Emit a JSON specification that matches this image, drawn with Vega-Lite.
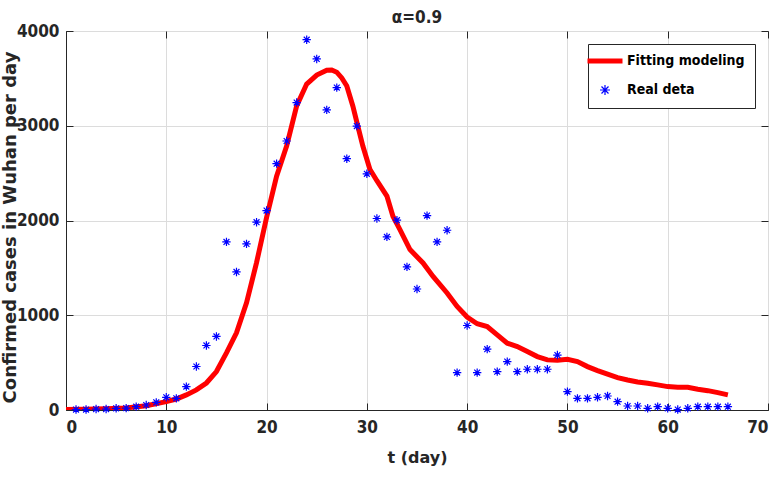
{
  "$schema": "https://vega.github.io/schema/vega-lite/v6.json",
  "width": 702,
  "height": 379,
  "autosize": {"type": "none"},
  "padding": {"left": 66, "top": 31, "right": 9, "bottom": 70},
  "background": "white",
  "title": {"text": "α=0.9", "font": "DejaVu Sans Condensed, Liberation Sans", "fontSize": 17, "fontWeight": "bold", "color": "#262626", "offset": -5, "anchor": "middle", "frame": "group"},
  "config": {
    "view": {"stroke": "#262626", "strokeWidth": 1},
    "axis": {
      "labelFont": "DejaVu Sans Condensed, Liberation Sans", "labelFontSize": 17, "labelFontWeight": "bold", "labelColor": "#262626",
      "titleFont": "DejaVu Sans, Liberation Sans", "titleFontWeight": "bold", "titleColor": "#262626",
      "domainColor": "#262626", "tickColor": "#262626", "tickSize": -7,
      "gridColor": "#dcdcdc", "gridWidth": 1
    }
  },
  "resolve": {"axis": {"x": "independent", "y": "independent"}},
  "datasets": {
    "fit": [
      {"t": 0, "v": 5, "series": "Fitting modeling"}, {"t": 2, "v": 8, "series": "Fitting modeling"}, {"t": 4, "v": 13, "series": "Fitting modeling"},
      {"t": 6, "v": 22, "series": "Fitting modeling"}, {"t": 8, "v": 45, "series": "Fitting modeling"}, {"t": 10, "v": 88, "series": "Fitting modeling"},
      {"t": 11, "v": 116, "series": "Fitting modeling"}, {"t": 12, "v": 159, "series": "Fitting modeling"}, {"t": 13, "v": 212, "series": "Fitting modeling"},
      {"t": 14, "v": 285, "series": "Fitting modeling"}, {"t": 15, "v": 406, "series": "Fitting modeling"}, {"t": 16, "v": 603, "series": "Fitting modeling"},
      {"t": 17, "v": 815, "series": "Fitting modeling"}, {"t": 18, "v": 1132, "series": "Fitting modeling"}, {"t": 19, "v": 1555, "series": "Fitting modeling"},
      {"t": 20, "v": 2031, "series": "Fitting modeling"}, {"t": 21, "v": 2468, "series": "Fitting modeling"}, {"t": 22, "v": 2786, "series": "Fitting modeling"},
      {"t": 23, "v": 3209, "series": "Fitting modeling"}, {"t": 24, "v": 3440, "series": "Fitting modeling"}, {"t": 25, "v": 3535, "series": "Fitting modeling"},
      {"t": 26, "v": 3585, "series": "Fitting modeling"}, {"t": 26.5, "v": 3588, "series": "Fitting modeling"}, {"t": 27, "v": 3565, "series": "Fitting modeling"},
      {"t": 27.5, "v": 3505, "series": "Fitting modeling"}, {"t": 28, "v": 3420, "series": "Fitting modeling"}, {"t": 28.6, "v": 3209, "series": "Fitting modeling"},
      {"t": 29.1, "v": 2997, "series": "Fitting modeling"}, {"t": 29.6, "v": 2786, "series": "Fitting modeling"}, {"t": 30.3, "v": 2540, "series": "Fitting modeling"},
      {"t": 31, "v": 2420, "series": "Fitting modeling"}, {"t": 32, "v": 2257, "series": "Fitting modeling"}, {"t": 32.6, "v": 2045, "series": "Fitting modeling"},
      {"t": 33.3, "v": 1904, "series": "Fitting modeling"}, {"t": 34.3, "v": 1693, "series": "Fitting modeling"}, {"t": 35.6, "v": 1552, "series": "Fitting modeling"},
      {"t": 36.6, "v": 1410, "series": "Fitting modeling"}, {"t": 38, "v": 1235, "series": "Fitting modeling"}, {"t": 39, "v": 1093, "series": "Fitting modeling"},
      {"t": 40, "v": 981, "series": "Fitting modeling"}, {"t": 41, "v": 910, "series": "Fitting modeling"}, {"t": 42, "v": 881, "series": "Fitting modeling"},
      {"t": 43, "v": 793, "series": "Fitting modeling"}, {"t": 44, "v": 705, "series": "Fitting modeling"}, {"t": 45, "v": 670, "series": "Fitting modeling"},
      {"t": 46, "v": 617, "series": "Fitting modeling"}, {"t": 47, "v": 564, "series": "Fitting modeling"}, {"t": 48, "v": 529, "series": "Fitting modeling"},
      {"t": 49, "v": 525, "series": "Fitting modeling"}, {"t": 50, "v": 536, "series": "Fitting modeling"}, {"t": 51, "v": 511, "series": "Fitting modeling"},
      {"t": 52, "v": 458, "series": "Fitting modeling"}, {"t": 53, "v": 416, "series": "Fitting modeling"}, {"t": 54, "v": 378, "series": "Fitting modeling"},
      {"t": 55, "v": 342, "series": "Fitting modeling"}, {"t": 56, "v": 317, "series": "Fitting modeling"}, {"t": 57, "v": 296, "series": "Fitting modeling"},
      {"t": 58, "v": 282, "series": "Fitting modeling"}, {"t": 59, "v": 265, "series": "Fitting modeling"}, {"t": 60, "v": 247, "series": "Fitting modeling"},
      {"t": 61, "v": 240, "series": "Fitting modeling"}, {"t": 62, "v": 240, "series": "Fitting modeling"}, {"t": 63, "v": 219, "series": "Fitting modeling"},
      {"t": 64, "v": 204, "series": "Fitting modeling"}, {"t": 65, "v": 183, "series": "Fitting modeling"}, {"t": 66, "v": 159, "series": "Fitting modeling"}
    ],
    "real": [
      {"t": 1, "v": 5, "series": "Real deta"}, {"t": 2, "v": 5, "series": "Real deta"}, {"t": 3, "v": 10, "series": "Real deta"},
      {"t": 4, "v": 10, "series": "Real deta"}, {"t": 5, "v": 18, "series": "Real deta"}, {"t": 6, "v": 20, "series": "Real deta"},
      {"t": 7, "v": 35, "series": "Real deta"}, {"t": 8, "v": 53, "series": "Real deta"}, {"t": 9, "v": 81, "series": "Real deta"},
      {"t": 10, "v": 134, "series": "Real deta"}, {"t": 11, "v": 123, "series": "Real deta"}, {"t": 12, "v": 247, "series": "Real deta"},
      {"t": 13, "v": 459, "series": "Real deta"}, {"t": 14, "v": 681, "series": "Real deta"}, {"t": 15, "v": 776, "series": "Real deta"},
      {"t": 16, "v": 1774, "series": "Real deta"}, {"t": 17, "v": 1457, "series": "Real deta"}, {"t": 18, "v": 1753, "series": "Real deta"},
      {"t": 19, "v": 1982, "series": "Real deta"}, {"t": 20, "v": 2105, "series": "Real deta"}, {"t": 21, "v": 2600, "series": "Real deta"},
      {"t": 22, "v": 2839, "series": "Real deta"}, {"t": 23, "v": 3245, "series": "Real deta"}, {"t": 24, "v": 3908, "series": "Real deta"},
      {"t": 25, "v": 3705, "series": "Real deta"}, {"t": 26, "v": 3167, "series": "Real deta"}, {"t": 27, "v": 3403, "series": "Real deta"},
      {"t": 28, "v": 2652, "series": "Real deta"}, {"t": 29, "v": 2997, "series": "Real deta"}, {"t": 30, "v": 2493, "series": "Real deta"},
      {"t": 31, "v": 2021, "series": "Real deta"}, {"t": 32, "v": 1827, "series": "Real deta"}, {"t": 33, "v": 2003, "series": "Real deta"},
      {"t": 34, "v": 1510, "series": "Real deta"}, {"t": 35, "v": 1277, "series": "Real deta"}, {"t": 36, "v": 2052, "series": "Real deta"},
      {"t": 37, "v": 1774, "series": "Real deta"}, {"t": 38, "v": 1897, "series": "Real deta"}, {"t": 39, "v": 395, "series": "Real deta"},
      {"t": 40, "v": 892, "series": "Real deta"}, {"t": 41, "v": 395, "series": "Real deta"}, {"t": 42, "v": 642, "series": "Real deta"},
      {"t": 43, "v": 405, "series": "Real deta"}, {"t": 44, "v": 511, "series": "Real deta"}, {"t": 45, "v": 405, "series": "Real deta"},
      {"t": 46, "v": 430, "series": "Real deta"}, {"t": 47, "v": 430, "series": "Real deta"}, {"t": 48, "v": 430, "series": "Real deta"},
      {"t": 49, "v": 580, "series": "Real deta"}, {"t": 50, "v": 194, "series": "Real deta"}, {"t": 51, "v": 123, "series": "Real deta"},
      {"t": 52, "v": 123, "series": "Real deta"}, {"t": 53, "v": 134, "series": "Real deta"}, {"t": 54, "v": 148, "series": "Real deta"},
      {"t": 55, "v": 88, "series": "Real deta"}, {"t": 56, "v": 42, "series": "Real deta"}, {"t": 57, "v": 42, "series": "Real deta"},
      {"t": 58, "v": 18, "series": "Real deta"}, {"t": 59, "v": 35, "series": "Real deta"}, {"t": 60, "v": 18, "series": "Real deta"},
      {"t": 61, "v": 5, "series": "Real deta"}, {"t": 62, "v": 18, "series": "Real deta"}, {"t": 63, "v": 35, "series": "Real deta"},
      {"t": 64, "v": 35, "series": "Real deta"}, {"t": 65, "v": 35, "series": "Real deta"}, {"t": 66, "v": 35, "series": "Real deta"}
    ]
  },
  "encoding": {
    "x": {"field": "t", "type": "quantitative", "scale": {"domain": [0, 70], "nice": false},
      "axis": {"values": [0, 10, 20, 30, 40, 50, 60, 70], "format": "d", "title": "t  (day)", "titleFontSize": 16, "labelPadding": 16, "titlePadding": 14, "grid": true}},
    "y": {"field": "v", "type": "quantitative", "scale": {"domain": [0, 4000], "nice": false},
      "axis": {"values": [0, 1000, 2000, 3000, 4000], "format": "d", "title": "Confirmed cases in Wuhan per day", "titleFontSize": 18, "labelPadding": 14, "titleX": -47, "titleY": 196, "grid": true}},
    "color": {"field": "series", "type": "nominal",
      "scale": {"domain": ["Fitting modeling", "Real deta"], "range": ["#ff0000", "#0000ff"]},
      "legend": {
        "title": null, "orient": "top-right", "offset": 13,
        "strokeColor": "#262626", "fillColor": "white", "padding": 10,
        "labelFont": "DejaVu Sans Condensed, Liberation Sans", "labelFontSize": 14, "labelFontWeight": "bold", "labelColor": "#000000",
        "symbolSize": 1225, "rowPadding": 11, "labelOffset": 15,
        "encode": {"symbols": {"update": {
          "strokeWidth": {"signal": "datum.value === 'Fitting modeling' ? 5 : 1.2"},
          "size": {"signal": "datum.value === 'Fitting modeling' ? 1225 : 100"}
        }}}
      }}
  },
  "layer": [
    {
      "data": {"name": "fit"},
      "mark": {"type": "line", "strokeWidth": 5, "clip": true}
    },
    {
      "data": {"name": "real"},
      "mark": {"type": "point", "filled": false, "strokeWidth": 1.2, "size": 70, "opacity": 1},
      "encoding": {
        "x": {"field": "t", "type": "quantitative",
          "axis": {"orient": "top", "values": [0, 10, 20, 30, 40, 50, 60, 70], "labels": false, "title": null, "grid": false, "domain": false}},
        "y": {"field": "v", "type": "quantitative",
          "axis": {"orient": "right", "values": [0, 1000, 2000, 3000, 4000], "labels": false, "title": null, "grid": false, "domain": false}},
        "shape": {"field": "series", "type": "nominal",
          "scale": {"domain": ["Fitting modeling", "Real deta"], "range": ["stroke", "M0,-1L0,1M-1,0L1,0M-0.7,-0.7L0.7,0.7M-0.7,0.7L0.7,-0.7"]},
          "legend": null}
      }
    }
  ]
}
